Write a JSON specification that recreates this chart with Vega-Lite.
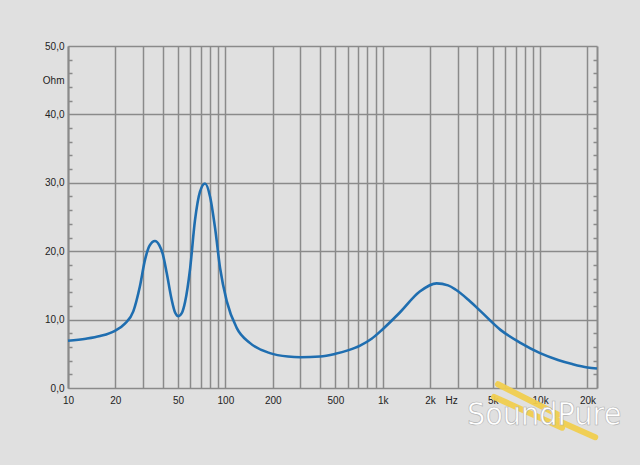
{
  "$schema": "https://vega.github.io/schema/vega-lite/v6.json",
  "width": 529,
  "height": 342,
  "autosize": "none",
  "padding": {"left": 68, "top": 46, "right": 43, "bottom": 77},
  "background": "#e0e0e0",
  "config": {"view": {"stroke": null}, "font": "Liberation Sans"},
  "datasets": {
    "curve": [
      {"f": 10, "v": 6.9}, {"f": 13, "v": 7.2}, {"f": 16, "v": 7.6}, {"f": 20, "v": 8.4},
      {"f": 23, "v": 9.4}, {"f": 26, "v": 11.2}, {"f": 28.6, "v": 14.8}, {"f": 30.9, "v": 18.8},
      {"f": 33, "v": 20.8}, {"f": 35.7, "v": 21.5}, {"f": 38, "v": 20.9}, {"f": 40, "v": 19.6},
      {"f": 42.4, "v": 16.8}, {"f": 45.6, "v": 12.9}, {"f": 48, "v": 11.0}, {"f": 50.3, "v": 10.5},
      {"f": 53, "v": 11.0}, {"f": 55.5, "v": 12.6}, {"f": 59.6, "v": 17.3}, {"f": 64.1, "v": 24.5},
      {"f": 69, "v": 28.7}, {"f": 74.3, "v": 29.9}, {"f": 79.9, "v": 28.0}, {"f": 86, "v": 23.4},
      {"f": 92.6, "v": 17.5}, {"f": 102, "v": 12.7}, {"f": 118, "v": 8.8}, {"f": 143, "v": 6.6},
      {"f": 192, "v": 5.1}, {"f": 250, "v": 4.6}, {"f": 300, "v": 4.5}, {"f": 400, "v": 4.6},
      {"f": 500, "v": 5.0}, {"f": 600, "v": 5.5}, {"f": 718, "v": 6.2}, {"f": 850, "v": 7.2},
      {"f": 1000, "v": 8.6}, {"f": 1280, "v": 11.0}, {"f": 1720, "v": 14.1}, {"f": 2200, "v": 15.3},
      {"f": 2600, "v": 15.0}, {"f": 2900, "v": 14.4}, {"f": 3500, "v": 12.9}, {"f": 4200, "v": 11.2},
      {"f": 5600, "v": 8.5}, {"f": 7500, "v": 6.6}, {"f": 10000, "v": 5.1}, {"f": 13000, "v": 4.1},
      {"f": 16000, "v": 3.5}, {"f": 20000, "v": 3.0}, {"f": 23000, "v": 2.85}
    ],
    "fork": [
      {"f": 5400, "v": 0.55, "f2": 13000, "v2": -3.9},
      {"f": 5100, "v": -1.3, "f2": 13800, "v2": -5.8},
      {"f": 12500, "v": -4.6, "f2": 22400, "v2": -7.2}
    ],
    "logo": [{"f": 10617, "v": -5.4, "label": "SoundPure"}]
  },
  "layer": [
    {
      "data": {"name": "curve"},
      "mark": {"type": "line", "color": "#1f6eb0", "strokeWidth": 2.6, "interpolate": "monotone"},
      "encoding": {
        "x": {
          "field": "f", "type": "quantitative",
          "scale": {"type": "log", "domain": [10, 23000], "nice": false},
          "axis": {
            "title": null, "orient": "bottom",
            "values": [10,20,30,40,50,60,70,80,90,100,200,300,400,500,600,700,800,900,1000,2000,2720,3000,4000,5000,6000,7000,8000,9000,10000,20000],
            "labelExpr": "indexof([10,20,50,100,200,500,1000,2000,5000,10000,20000], datum.value) >= 0 ? (datum.value >= 1000 ? (datum.value/1000) + 'k' : '' + datum.value) : (datum.value == 2720 ? 'Hz' : '')",
            "grid": true,
            "gridColor": "#8a8a8a",
            "gridWidth": 1.5,
            "gridOpacity": {"condition": {"test": "datum.value == 2720", "value": 0}, "value": 1},
            "ticks": false, "domain": false,
            "labelPadding": 7, "labelFontSize": 10, "labelColor": "#222222",
            "labelFlush": false, "labelOverlap": false
          }
        },
        "y": {
          "field": "v", "type": "quantitative",
          "scale": {"domain": [0, 50], "nice": false, "zero": false},
          "axis": {
            "title": null, "orient": "left",
            "values": [0,2,4,6,8,10,12,14,16,18,20,22,24,26,28,30,32,34,36,38,40,42,44,45,46,48,50],
            "labelExpr": "datum.value == 45 ? 'Ohm' : (datum.value % 10 == 0 ? replace(format(datum.value, '.1f'), '.', ',') : '')",
            "grid": true,
            "gridColor": "#8a8a8a",
            "gridWidth": 1.5,
            "gridOpacity": {"condition": {"test": "datum.value % 10 == 0", "value": 1}, "value": 0},
            "tickSize": -4,
            "tickColor": "#8a8a8a",
            "tickWidth": 1.5,
            "tickOpacity": {"condition": {"test": "datum.value % 10 == 0 || datum.value == 45", "value": 0}, "value": 1},
            "domain": true, "domainColor": "#8a8a8a", "domainWidth": 2,
            "labelPadding": 8, "labelFontSize": 10, "labelColor": "#222222",
            "labelOverlap": false, "labelBound": false, "labelFlush": false
          }
        }
      }
    },
    {
      "data": {"name": "curve"},
      "mark": {"type": "line", "strokeOpacity": 0},
      "encoding": {
        "x": {"field": "f", "type": "quantitative"},
        "y": {
          "field": "v", "type": "quantitative",
          "axis": {
            "title": null, "orient": "right",
            "values": [2,4,6,8,12,14,16,18,22,24,26,28,32,34,36,38,42,44,46,48],
            "labels": false, "grid": false,
            "tickSize": -4, "tickColor": "#8a8a8a", "tickWidth": 1.5,
            "domain": true, "domainColor": "#8a8a8a", "domainWidth": 2
          }
        }
      }
    },
    {
      "data": {"name": "fork"},
      "mark": {"type": "rule", "color": "#f0cd4e", "strokeWidth": 6, "strokeCap": "round", "opacity": 0.95},
      "encoding": {
        "x": {"field": "f", "type": "quantitative"},
        "y": {"field": "v", "type": "quantitative", "axis": null},
        "x2": {"field": "f2"},
        "y2": {"field": "v2"}
      }
    },
    {
      "data": {"name": "logo"},
      "mark": {"type": "text", "font": "DejaVu Sans Condensed, Liberation Sans, sans-serif", "fontSize": 32, "color": "#ffffff", "align": "center", "baseline": "alphabetic", "stroke": "#b0b0b0", "strokeWidth": 0.6},
      "encoding": {
        "x": {"field": "f", "type": "quantitative"},
        "y": {"field": "v", "type": "quantitative", "axis": null},
        "text": {"field": "label"}
      }
    }
  ],
  "resolve": {"axis": {"y": "independent"}}
}
